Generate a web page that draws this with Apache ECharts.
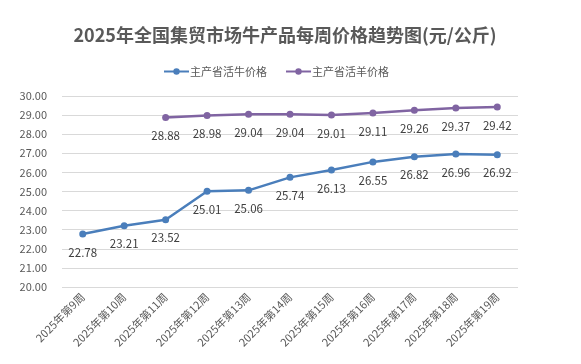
<!DOCTYPE html>
<html><head><meta charset="utf-8">
<script src="https://cdn.jsdelivr.net/npm/echarts@6/dist/echarts.min.js"></script>
<style>html,body{margin:0;padding:0;background:#fff}#c{width:581px;height:364px}</style>
</head><body><div id="c"></div>
<script>
const categories = ["2025年第9周","2025年第10周","2025年第11周","2025年第12周","2025年第13周","2025年第14周","2025年第15周","2025年第16周","2025年第17周","2025年第18周","2025年第19周"];
const cattlePrices = [22.78,23.21,23.52,25.01,25.06,25.74,26.13,26.55,26.82,26.96,26.92];
const sheepPrices = [null,null,28.88,28.98,29.04,29.04,29.01,29.11,29.26,29.37,29.42];
const seriesNames = ["主产省活牛价格","主产省活羊价格"];
const titleText = "2025年全国集贸市场牛产品每周价格趋势图(元/公斤)";

const font = '"Microsoft YaHei","Noto Sans CJK SC",sans-serif';
const chart = echarts.init(document.getElementById('c'));
chart.setOption({
  animation:false,
  textStyle:{fontFamily:font},
  title:{text:titleText,left:280,top:21,textAlign:'center',
    textStyle:{fontSize:18,fontWeight:'bold',color:'#595959',fontFamily:font}},
  legend:{top:61,left:158,itemGap:18,itemWidth:25,itemHeight:8,
    textStyle:{fontSize:11,color:'#595959',padding:[0,0,0,-4]},
    data:seriesNames},
  grid:{left:62,right:63,top:96,bottom:77,containLabel:false},
  xAxis:{type:'category',data:categories,boundaryGap:true,
    axisLine:{show:false},axisTick:{show:false},
    axisLabel:{rotate:45,fontSize:11,color:'#595959',margin:8,interval:0}},
  yAxis:{type:'value',min:20,max:30,interval:1,
    axisLine:{show:false},axisTick:{show:false},
    axisLabel:{formatter:v=>v.toFixed(2),fontSize:11,color:'#595959',margin:15},
    splitLine:{lineStyle:{color:'#d9d9d9',width:1}}},
  series:[
    {name:seriesNames[0],type:'line',data:cattlePrices,symbol:'circle',symbolSize:7,
      lineStyle:{color:'#4A7EBB',width:2.5},itemStyle:{color:'#4A7EBB'},
      label:{show:true,position:'bottom',distance:9,fontSize:11.5,color:'#404040',formatter:p=>p.value.toFixed(2)}},
    {name:seriesNames[1],type:'line',data:sheepPrices,symbol:'circle',symbolSize:7,
      lineStyle:{color:'#8064A2',width:2.5},itemStyle:{color:'#8064A2'},
      label:{show:true,position:'bottom',distance:9,fontSize:11.5,color:'#404040',formatter:p=>p.value.toFixed(2)}}
  ]
});
</script></body></html>
